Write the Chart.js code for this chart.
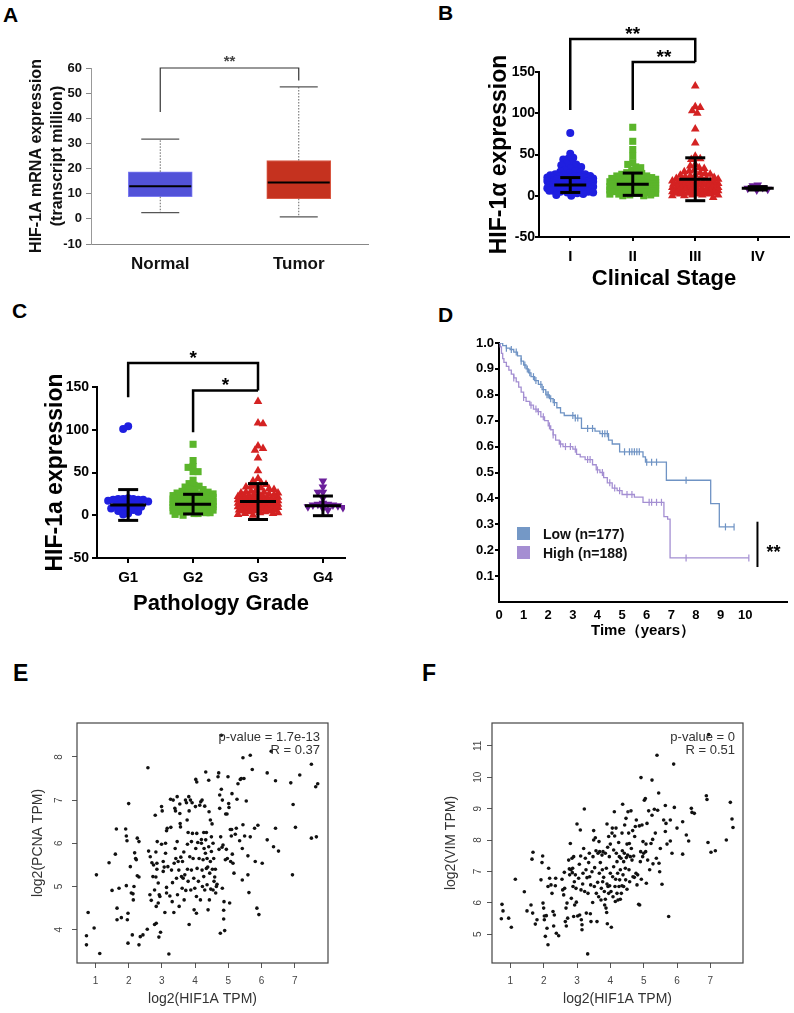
<!DOCTYPE html>
<html>
<head>
<meta charset="utf-8">
<script src="https://cdn.jsdelivr.net/npm/chart.js@4.4.1/dist/chart.umd.min.js"></script>
<style>
  body { margin: 0; background: #fff; width: 794px; height: 1013px; position: relative; overflow: hidden;
         font-family: Arial, "Liberation Sans", Helvetica, sans-serif; }
  canvas { position: absolute; }
  .letter { position: absolute; font-weight: bold; font-size: 21px; line-height: 1; color: #000; }
  .big { font-size: 23px; }
  .leg { position: absolute; left: 517px; font-weight: bold; font-size: 14px; line-height: 14px; color: #111; }
  .leg span { display: inline-block; width: 13px; height: 13px; vertical-align: top; margin-right: 13px; }
</style>
</head>
<body>
<div class="letter" style="left:3px;top:4px">A</div>
<div class="letter" style="left:438px;top:2px">B</div>
<div class="letter" style="left:12px;top:300px">C</div>
<div class="letter" style="left:438px;top:304px">D</div>
<div class="letter big" style="left:13px;top:662px">E</div>
<div class="letter big" style="left:422px;top:662px">F</div>

<canvas id="chartA" width="400" height="300" style="left:0;top:0"></canvas>
<canvas id="chartB" width="394" height="300" style="left:400px;top:0"></canvas>
<canvas id="chartC" width="400" height="320" style="left:0;top:300px"></canvas>
<canvas id="chartD" width="394" height="345" style="left:400px;top:300px"></canvas>
<canvas id="chartE" width="400" height="373" style="left:0;top:640px"></canvas>
<canvas id="chartF" width="394" height="373" style="left:400px;top:640px"></canvas>

<div class="leg" style="top:527px"><span style="background:#7498c6"></span>Low (n=177)</div>
<div class="leg" style="top:546px"><span style="background:#a58ed2"></span>High (n=188)</div>

<script>
// ---- A: box plot (UALCAN) ----
const aLabels = ["Normal", "Tumor"];
const aQ1 = [8.8, 8.0];
const aQ3 = [18.7, 23.2];
const aMed = [13.0, 14.5];
const aMin = [2.5, 0.8];
const aMax = [31.7, 52.5];
const aTicks = [-10, 0, 10, 20, 30, 40, 50, 60];

// ---- B: clinical stage dot plot ----
const bStages = ["I", "II", "III", "IV"];
const bTicks = [-50, 0, 50, 100, 150];
const bStageI = [76, 51, 46, 45, 44, 40, 39, 38, 37, 35, 33, 31, 30, 29, 28, 27, 26, 26, 25, 25, 24, 24, 23, 23,
  22, 22, 22, 21, 21, 21, 20, 20, 20, 20, 19, 19, 19, 19, 18, 18, 18, 18, 18, 17, 17, 17, 17, 17, 16, 16, 16, 16,
  16, 16, 15, 15, 15, 15, 15, 15, 14, 14, 14, 14, 14, 14, 13, 13, 13, 13, 13, 13, 12, 12, 12, 12, 12, 11, 11, 11,
  11, 11, 10, 10, 10, 10, 10, 9, 9, 9, 9, 8, 8, 8, 8, 7, 7, 7, 6, 6, 6, 5, 5, 4, 4, 3, 2, 1, 0];
const bStageII = [83, 66, 56, 48, 40, 38, 35, 34, 31, 29, 28, 27, 26, 25, 24, 24, 23, 22, 22, 21, 21, 20, 20, 20,
  19, 19, 19, 18, 18, 18, 17, 17, 17, 17, 16, 16, 16, 16, 15, 15, 15, 15, 14, 14, 14, 14, 13, 13, 13, 13, 12, 12,
  12, 12, 11, 11, 11, 11, 10, 10, 10, 10, 9, 9, 9, 9, 8, 8, 8, 7, 7, 7, 6, 6, 6, 5, 5, 5, 4, 4, 3, 3, 2, 2, 1, 1, 0, 0];
const bStageIII = [133, 108, 107, 103, 100, 81, 64, 48, 45, 44, 38, 36, 34, 33, 31, 30, 29, 28, 27, 26, 25, 25,
  24, 23, 22, 22, 21, 21, 20, 20, 19, 19, 18, 18, 17, 17, 17, 16, 16, 16, 15, 15, 15, 14, 14, 14, 13, 13, 13, 12,
  12, 12, 11, 11, 11, 10, 10, 10, 9, 9, 9, 8, 8, 8, 7, 7, 7, 6, 6, 6, 5, 5, 5, 4, 4, 4, 3, 3, 3, 2, 2, 2, 1, 1, 1,
  0, 0, -2];
const bStageIV = [13, 12, 10, 9, 8, 7];
const bMeans = [13, 14, 20, 9];
const bSds = [9, 13.5, 26, 2];

// ---- C: pathology grade dot plot ----
const cGrades = ["G1", "G2", "G3", "G4"];
const cTicks = [-50, 0, 50, 100, 150];
const cG1 = [104, 101, 20, 19, 19, 19, 18, 18, 18, 17, 16, 15, 14, 13, 12, 11, 10, 9, 8, 7, 6, 5, 4, 2, 1];
const cG2 = [83, 64, 57, 56, 51, 51, 41, 37, 35, 34, 33, 31, 30, 29, 28, 27, 26, 26, 25, 25, 24, 24, 23, 23, 22,
  22, 22, 21, 21, 21, 20, 20, 20, 20, 19, 19, 19, 19, 18, 18, 18, 18, 17, 17, 17, 17, 17, 16, 16, 16, 16, 16, 15,
  15, 15, 15, 15, 15, 14, 14, 14, 14, 14, 14, 13, 13, 13, 13, 13, 13, 12, 12, 12, 12, 12, 12, 11, 11, 11, 11, 11,
  10, 10, 10, 10, 10, 9, 9, 9, 9, 9, 8, 8, 8, 8, 7, 7, 7, 7, 6, 6, 6, 5, 5, 5, 4, 4, 3, 3, 2, 2, 1, 0];
const cG3 = [133, 108, 107, 81, 78, 76, 67, 52, 43, 40, 38, 36, 35, 34, 33, 32, 31, 30, 29, 28, 27, 27, 26, 26,
  25, 25, 24, 24, 23, 23, 22, 22, 21, 21, 21, 20, 20, 20, 19, 19, 19, 18, 18, 18, 18, 17, 17, 17, 17, 16, 16, 16,
  16, 15, 15, 15, 15, 14, 14, 14, 14, 13, 13, 13, 13, 12, 12, 12, 12, 11, 11, 11, 11, 10, 10, 10, 10, 9, 9, 9, 8,
  8, 8, 7, 7, 7, 6, 6, 6, 5, 5, 5, 4, 4, 3, 3, 2, 2, 1, 0];
const cG4 = [40, 33, 27, 27, 20, 14, 13, 13, 12, 12, 11, 10, 9, 8, 6];
const cMeans = [12, 13, 16, 11];
const cSds = [18, 11.5, 21, 11.5];

// ---- D: Kaplan-Meier ----
const dXTicks = [0, 1, 2, 3, 4, 5, 6, 7, 8, 9, 10];
const dYTicks = [0.1, 0.2, 0.3, 0.4, 0.5, 0.6, 0.7, 0.8, 0.9, 1.0];
const kmLowT = [0, 0.15, 0.3, 0.45, 0.6, 0.75, 0.9, 1.0, 1.1, 1.2, 1.3, 1.45, 1.6, 1.75, 1.9, 2.05, 2.2, 2.35,
  2.5, 2.65, 3.1, 3.35, 3.9, 4.1, 4.45, 4.6, 4.9, 5.85, 5.95, 6.8, 8.6, 8.95, 9.55];
const kmLowS = [1.0, 0.99, 0.98, 0.975, 0.965, 0.95, 0.93, 0.915, 0.9, 0.885, 0.87, 0.855, 0.84, 0.82, 0.8,
  0.785, 0.77, 0.75, 0.73, 0.72, 0.71, 0.67, 0.66, 0.65, 0.625, 0.61, 0.58, 0.56, 0.54, 0.47, 0.38, 0.29, 0.29];
const kmHighT = [0, 0.05, 0.1, 0.15, 0.2, 0.3, 0.4, 0.5, 0.6, 0.7, 0.8, 0.9, 1.0, 1.1, 1.25, 1.4, 1.55, 1.7,
  1.85, 2.0, 2.1, 2.2, 2.3, 2.45, 2.6, 3.0, 3.15, 3.3, 3.5, 3.8, 3.95, 4.1, 4.25, 4.4, 4.6, 4.8, 5.0, 5.5, 5.85,
  6.7, 6.85, 6.95, 10.15];
const kmHighS = [1.0, 0.985, 0.96, 0.94, 0.925, 0.91, 0.895, 0.88, 0.865, 0.85, 0.83, 0.81, 0.79, 0.775, 0.76,
  0.745, 0.735, 0.715, 0.7, 0.68, 0.665, 0.645, 0.625, 0.61, 0.6, 0.59, 0.57, 0.56, 0.55, 0.53, 0.51, 0.5, 0.48,
  0.46, 0.44, 0.43, 0.415, 0.405, 0.385, 0.33, 0.32, 0.17, 0.17];
const lowCensor = [0.3, 0.5, 0.7, 0.9, 1.05, 1.15, 1.25, 1.4, 1.5, 1.7, 1.8, 1.95, 2.0, 2.1, 2.25, 3.0, 3.1,
  3.2, 3.6, 3.8, 4.2, 4.3, 4.4, 5.1, 5.3, 5.4, 5.5, 5.6, 5.7, 6.0, 6.2, 6.4, 7.6, 9.2, 9.55];
const highCensor = [0.6, 1.0, 1.3, 1.5, 1.6, 1.8, 2.05, 2.2, 2.5, 2.7, 2.9, 3.1, 3.6, 3.7, 4.0, 4.2, 4.5, 4.7,
  4.9, 5.2, 5.4, 6.1, 6.2, 6.4, 6.6, 7.6, 10.15];

// ---- E: HIF1A vs PCNA ----
const eXTicks = [1, 2, 3, 4, 5, 6, 7];
const eYTicks = [4, 5, 6, 7, 8];
const eStats = ["p-value = 1.7e-13", "R = 0.37"];
const ePoints = [[0.73,3.86],[0.73,3.65],[0.78,4.40],[0.96,4.04],[1.03,5.27],[1.13,3.45],[1.41,5.55],[1.50,4.91],
  [1.60,5.75],[1.63,6.33],[1.65,4.50],[1.65,4.23],[1.71,4.96],[1.78,4.28],[1.91,6.33],[1.93,6.17],[1.95,6.06],
  [1.93,5.02],[1.96,4.23],[1.98,4.38],[1.98,3.69],[2.00,6.92],[2.05,5.46],[2.08,4.85],[2.11,3.88],[2.13,4.83],
  [2.14,4.69],[2.16,5.00],[2.18,5.78],[2.21,5.65],[2.23,5.62],[2.26,6.12],[2.26,5.25],[2.31,6.04],[2.31,5.22],
  [2.31,3.65],[2.35,3.84],[2.43,3.88],[2.56,4.01],[2.58,7.75],[2.60,5.82],[2.64,4.81],[2.65,5.69],[2.68,4.68],
  [2.70,5.55],[2.73,5.23],[2.75,5.50],[2.78,4.92],[2.78,4.12],[2.80,6.65],[2.82,5.80],[2.82,5.22],[2.83,4.15],
  [2.83,4.54],[2.85,5.40],[2.85,5.54],[2.86,6.04],[2.89,4.62],[2.89,5.08],[2.91,3.83],[2.92,4.81],[2.94,4.77],
  [2.96,3.94],[2.99,6.85],[3.01,6.75],[2.99,5.98],[3.04,5.35],[3.04,5.58],[3.07,5.45],[3.09,4.40],[3.11,6.00],
  [3.11,5.77],[3.14,6.29],[3.14,4.98],[3.14,4.85],[3.16,6.35],[3.18,5.46],[3.21,3.44],[3.24,4.78],[3.26,7.02],
  [3.27,6.37],[3.29,5.38],[3.31,4.65],[3.32,5.09],[3.34,7.00],[3.36,4.40],[3.37,5.54],[3.39,6.81],[3.40,5.88],
  [3.41,6.75],[3.42,5.65],[3.44,5.19],[3.46,7.08],[3.46,6.04],[3.47,4.81],[3.49,5.58],[3.51,5.38],[3.52,4.54],
  [3.54,6.91],[3.54,6.69],[3.55,6.46],[3.56,6.38],[3.57,5.68],[3.59,5.23],[3.61,4.96],[3.62,5.58],[3.64,5.19],
  [3.66,5.80],[3.67,4.69],[3.69,5.27],[3.71,7.00],[3.72,4.91],[3.74,6.94],[3.76,6.54],[3.77,5.98],[3.77,5.40],
  [3.79,6.25],[3.79,5.12],[3.81,7.08],[3.82,6.75],[3.82,4.12],[3.84,5.69],[3.86,7.00],[3.87,4.92],[3.89,6.04],
  [3.89,5.38],[3.91,6.94],[3.92,6.23],[3.94,5.65],[3.96,5.19],[3.97,4.46],[3.99,4.96],[4.01,6.85],[4.02,7.48],
  [4.02,5.88],[4.04,4.38],[4.04,4.77],[4.05,7.42],[4.05,6.23],[4.06,5.42],[4.08,6.02],[4.10,5.12],[4.12,5.65],
  [4.14,6.88],[4.16,4.69],[4.17,6.96],[4.19,6.00],[4.19,6.09],[4.21,7.00],[4.21,5.38],[4.22,5.00],[4.24,5.62],
  [4.26,6.25],[4.26,5.23],[4.27,5.88],[4.29,4.92],[4.29,6.86],[4.31,5.77],[4.32,7.65],[4.32,6.08],[4.34,5.42],
  [4.34,6.25],[4.36,5.65],[4.36,5.04],[4.38,5.45],[4.39,4.46],[4.41,7.46],[4.41,5.92],[4.42,6.73],[4.43,4.69],
  [4.44,5.31],[4.46,6.54],[4.46,5.58],[4.47,4.94],[4.49,6.15],[4.49,5.81],[4.51,6.45],[4.52,5.40],[4.54,6.00],
  [4.54,4.92],[4.56,5.65],[4.57,5.12],[4.59,5.22],[4.61,5.40],[4.62,4.85],[4.64,5.00],[4.66,5.05],[4.69,7.54],
  [4.71,7.63],[4.72,5.86],[4.74,7.12],[4.74,6.81],[4.76,3.92],[4.77,6.15],[4.79,7.25],[4.81,5.91],[4.82,7.00],
  [4.82,4.96],[4.84,5.96],[4.86,4.25],[4.86,4.45],[4.87,4.65],[4.89,3.98],[4.91,5.62],[4.92,6.68],[4.94,5.86],
  [4.96,6.68],[4.97,5.65],[4.99,7.54],[5.01,6.92],[5.02,6.83],[5.04,4.62],[5.06,6.32],[5.07,5.58],[5.09,6.17],
  [5.10,6.32],[5.11,7.15],[5.12,5.75],[5.14,5.54],[5.17,5.31],[5.21,6.21],[5.24,6.35],[5.26,7.02],[5.29,7.38],
  [5.34,6.06],[5.36,7.48],[5.39,7.50],[5.42,5.88],[5.42,5.15],[5.44,6.43],[5.44,7.98],[5.47,7.50],[5.49,6.17],
  [5.54,6.98],[5.59,5.71],[5.59,5.27],[5.62,4.86],[5.66,8.04],[5.66,6.15],[5.72,7.71],[5.79,6.35],[5.81,5.58],
  [5.86,4.50],[5.89,6.42],[5.92,4.35],[6.02,5.54],[6.17,7.63],[6.17,6.08],[6.29,8.13],[6.36,5.92],[6.42,7.45],
  [6.42,6.35],[6.51,5.82],[6.88,7.40],[6.93,5.27],[6.95,6.90],[7.02,6.37],[7.15,7.58],[7.50,7.83],[7.50,6.12],
  [7.63,7.31],[7.65,6.15],[7.69,7.38],[4.79,8.50]];

// ---- F: HIF1A vs VIM ----
const fXTicks = [1, 2, 3, 4, 5, 6, 7];
const fYTicks = [5, 6, 7, 8, 9, 10, 11];
const fStats = ["p-value = 0", "R = 0.51"];
const fPoints = [[0.75,5.95],[0.78,5.74],[0.73,5.49],[0.95,5.51],[1.03,5.22],[1.15,6.75],[1.42,6.35],[1.50,5.74],
  [1.62,5.93],[1.65,7.39],[1.68,7.61],[1.67,5.67],[1.75,5.32],[1.80,5.46],[1.92,6.73],[1.95,7.28],[1.97,7.49],
  [1.98,5.99],[2.00,5.83],[2.02,5.58],[2.02,5.46],[2.05,4.93],[2.08,5.59],[2.10,5.19],[2.13,4.66],[2.13,6.52],
  [2.15,7.10],[2.18,6.78],[2.22,6.57],[2.25,6.30],[2.28,5.72],[2.30,5.26],[2.32,5.61],[2.35,6.54],[2.36,6.78],
  [2.38,5.03],[2.45,4.95],[2.55,6.75],[2.57,6.41],[2.60,6.25],[2.62,6.97],[2.63,6.46],[2.65,5.40],[2.67,5.83],
  [2.68,5.26],[2.70,5.99],[2.72,5.51],[2.75,7.36],[2.77,7.08],[2.78,6.89],[2.80,7.89],[2.82,7.05],[2.83,6.14],
  [2.85,7.42],[2.86,6.96],[2.87,7.10],[2.88,6.52],[2.90,7.47],[2.90,5.56],[2.92,6.67],[2.93,5.93],[2.95,6.89],
  [2.97,6.46],[2.98,6.02],[3.00,8.51],[3.02,5.58],[3.05,6.78],[3.07,7.23],[3.08,5.61],[3.10,8.32],[3.11,7.49],
  [3.12,6.41],[3.13,5.46],[3.15,5.14],[3.15,5.30],[3.17,6.60],[3.18,6.94],[3.20,7.73],[3.22,8.99],[3.23,6.36],
  [3.25,7.42],[3.27,7.05],[3.28,5.67],[3.30,6.80],[3.32,4.37],[3.33,6.30],[3.35,7.28],[3.37,7.58],[3.38,6.83],
  [3.40,5.65],[3.41,6.57],[3.42,5.40],[3.45,6.99],[3.47,6.01],[3.48,7.47],[3.50,8.30],[3.50,8.00],[3.52,6.52],
  [3.53,7.12],[3.55,8.07],[3.57,7.66],[3.58,6.30],[3.60,5.40],[3.62,6.65],[3.63,7.58],[3.65,6.19],[3.66,7.95],
  [3.67,6.94],[3.68,7.63],[3.70,7.28],[3.72,6.09],[3.73,6.46],[3.75,7.52],[3.76,7.05],[3.77,6.67],[3.78,7.63],
  [3.80,6.81],[3.82,6.36],[3.83,5.93],[3.85,6.11],[3.85,7.58],[3.87,5.83],[3.88,7.10],[3.89,5.69],[3.90,8.51],
  [3.90,6.60],[3.91,5.33],[3.92,7.77],[3.93,6.52],[3.95,8.11],[3.95,6.30],[3.97,7.47],[3.98,6.54],[4.00,6.94],
  [4.00,7.87],[4.02,6.36],[4.03,5.22],[4.05,8.22],[4.06,8.38],[4.07,6.83],[4.08,6.19],[4.10,7.15],[4.10,7.68],
  [4.12,8.90],[4.13,8.13],[4.14,6.52],[4.15,6.04],[4.16,6.75],[4.17,8.38],[4.18,7.58],[4.20,6.30],[4.20,7.31],
  [4.22,6.94],[4.23,6.09],[4.25,7.92],[4.26,6.52],[4.27,7.47],[4.28,6.73],[4.30,7.05],[4.30,6.11],[4.32,7.42],
  [4.33,6.30],[4.35,8.22],[4.35,6.54],[4.36,7.66],[4.37,9.14],[4.38,6.89],[4.40,7.31],[4.40,6.52],[4.42,7.58],
  [4.43,8.48],[4.45,7.10],[4.46,6.73],[4.47,8.69],[4.48,7.44],[4.50,7.87],[4.50,6.43],[4.52,7.52],[4.53,8.90],
  [4.55,8.22],[4.56,7.05],[4.57,7.89],[4.58,6.67],[4.60,7.47],[4.62,8.93],[4.63,7.73],[4.65,7.36],[4.67,8.30],
  [4.68,6.83],[4.70,7.49],[4.72,6.81],[4.73,8.11],[4.75,8.43],[4.77,6.94],[4.78,8.64],[4.80,6.57],[4.82,6.89],
  [4.85,5.95],[4.87,8.45],[4.88,5.93],[4.90,7.31],[4.91,7.63],[4.92,9.99],[4.93,6.75],[4.95,8.48],[4.97,7.47],
  [4.98,7.95],[5.00,7.58],[5.02,9.27],[5.05,9.32],[5.06,7.63],[5.07,7.87],[5.08,6.62],[5.10,8.53],[5.12,7.36],
  [5.15,8.93],[5.18,7.05],[5.22,7.89],[5.25,9.91],[5.25,8.79],[5.27,8.02],[5.28,7.24],[5.32,8.98],[5.35,8.22],
  [5.38,7.42],[5.40,10.70],[5.42,8.95],[5.45,9.50],[5.46,7.26],[5.48,6.99],[5.50,7.73],[5.55,6.59],[5.60,8.64],
  [5.65,9.10],[5.65,8.27],[5.67,8.53],[5.70,7.87],[5.75,5.56],[5.80,8.64],[5.80,7.97],[5.85,7.58],[5.90,10.42],
  [5.92,9.04],[6.00,8.38],[6.17,8.58],[6.17,7.55],[6.28,8.16],[6.35,7.97],[6.43,9.01],[6.45,8.88],[6.52,8.85],
  [6.88,9.41],[6.90,9.29],[6.93,7.92],[7.02,7.61],[7.15,7.66],[7.48,8.00],[7.60,9.20],[7.65,8.67],[7.68,8.40],
  [6.95,11.36]];

// ---------------- helpers ----------------
Chart.defaults.font.family = 'Arial, "Liberation Sans", Helvetica, sans-serif';
Chart.defaults.color = "#000";
Chart.defaults.animation = false;
Chart.defaults.plugins.legend.display = false;
Chart.defaults.plugins.tooltip.enabled = false;

const fixW = w => s => { s.width = w; };
const fixH = h => s => { s.height = h; };
const setTicks = vals => s => { s.ticks = vals.map(v => ({ value: v })); };

function line(ctx, x1, y1, x2, y2) {
  ctx.beginPath(); ctx.moveTo(x1, y1); ctx.lineTo(x2, y2); ctx.stroke();
}

// GraphPad-like spreading of dots that share similar values
function swarm(values, center, pxPerX, pxPerY, gapPx, maxHalf) {
  const sorted = values.slice().sort((a, b) => b - a);
  const placed = [];
  return sorted.map(v => {
    const py = v * pxPerY;
    let best = 0, bestGap = -1, found = false;
    for (let k = 0; k <= maxHalf && !found; k++) {
      const tries = k === 0 ? [0] : (placed.length % 2 ? [-k, k] : [k, -k]);
      for (const s of tries) {
        let g = Infinity;
        for (const p of placed) g = Math.min(g, Math.hypot(p.x - s, p.y - py));
        if (g >= gapPx) { best = s; found = true; break; }
        if (g > bestGap) { bestGap = g; best = s; }
      }
    }
    placed.push({ x: best, y: py });
    return { x: center + best / pxPerX, y: v };
  });
}

function survAt(ts, ss, t) {
  let s = ss[0];
  ts.forEach((ti, i) => { if (ti <= t) s = ss[i]; });
  return s;
}

const blackBorder = { color: "#000", width: 2 };

// ---------------- A ----------------
const boxPlugin = {
  id: "boxWhiskers",
  afterDatasetsDraw(chart) {
    const { ctx, scales: { x, y } } = chart;
    ctx.save();
    aLabels.forEach((_, i) => {
      const cx = x.getPixelForValue(i);
      ctx.strokeStyle = "#666"; ctx.lineWidth = 1; ctx.setLineDash([1.5, 1.5]);
      line(ctx, cx, y.getPixelForValue(aQ3[i]), cx, y.getPixelForValue(aMax[i]));
      line(ctx, cx, y.getPixelForValue(aQ1[i]), cx, y.getPixelForValue(aMin[i]));
      ctx.setLineDash([]); ctx.strokeStyle = "#555"; ctx.lineWidth = 1.3;
      line(ctx, cx - 19, y.getPixelForValue(aMax[i]), cx + 19, y.getPixelForValue(aMax[i]));
      line(ctx, cx - 19, y.getPixelForValue(aMin[i]), cx + 19, y.getPixelForValue(aMin[i]));
      ctx.strokeStyle = "#000"; ctx.lineWidth = 2;
      line(ctx, cx - 31, y.getPixelForValue(aMed[i]), cx + 31, y.getPixelForValue(aMed[i]));
    });
    const x0 = x.getPixelForValue(0), x1 = x.getPixelForValue(1), top = y.getPixelForValue(60);
    ctx.strokeStyle = "#333"; ctx.lineWidth = 1.2;
    ctx.beginPath();
    ctx.moveTo(x0, y.getPixelForValue(42.5)); ctx.lineTo(x0, top); ctx.lineTo(x1, top); ctx.lineTo(x1, y.getPixelForValue(55));
    ctx.stroke();
    ctx.fillStyle = "#444"; ctx.font = "bold 15px Arial"; ctx.textAlign = "center";
    ctx.fillText("**", (x0 + x1) / 2, top - 2);
    ctx.restore();
  }
};

new Chart(document.getElementById("chartA"), {
  type: "bar",
  data: {
    labels: aLabels,
    datasets: [{
      data: aLabels.map((_, i) => [aQ1[i], aQ3[i]]),
      backgroundColor: ["#5252d8", "#c5321f"],
      borderColor: ["#7c7cf2", "#da5a45"],
      borderWidth: 1, borderSkipped: false, barThickness: 64
    }]
  },
  options: {
    responsive: false,
    layout: { padding: { left: 0, top: 68, right: 32, bottom: 0 } },
    scales: {
      x: {
        afterFit: fixH(56), grid: { drawOnChartArea: false, drawTicks: false }, border: { color: "#888", width: 1 },
        ticks: { padding: 10, color: "#111", font: { size: 17, weight: "bold" } }
      },
      y: {
        min: -10, max: 60, afterFit: fixW(91), afterBuildTicks: setTicks(aTicks),
        grid: { drawOnChartArea: false, tickLength: 5, color: "#888" }, border: { color: "#999", width: 1 },
        ticks: { padding: 4, color: "#111", font: { size: 13, weight: "bold" } },
        title: {
          display: true, text: ["HIF-1A mRNA expression", "(transcript million)"], color: "#111",
          font: { size: 16, weight: "bold", lineHeight: 1.3 }, padding: { top: 26, bottom: 0 }
        }
      }
    }
  },
  plugins: [boxPlugin]
});

// ---------------- B & C ----------------
function dotPlugin(means, sds, meanHalf, capHalf, brackets) {
  return {
    id: "meanSd",
    afterDatasetsDraw(chart) {
      const { ctx, scales: { x, y } } = chart;
      ctx.save();
      ctx.strokeStyle = "#000"; ctx.lineWidth = 3;
      means.forEach((m, i) => {
        const cx = x.getPixelForValue(i + 1);
        const yt = y.getPixelForValue(m + sds[i]), yb = y.getPixelForValue(m - sds[i]), ym = y.getPixelForValue(m);
        line(ctx, cx, yt, cx, yb);
        line(ctx, cx - capHalf, yt, cx + capHalf, yt);
        line(ctx, cx - capHalf, yb, cx + capHalf, yb);
        line(ctx, cx - meanHalf, ym, cx + meanHalf, ym);
      });
      ctx.lineWidth = 2.5; ctx.lineJoin = "miter";
      ctx.fillStyle = "#000"; ctx.font = "bold 19px Arial"; ctx.textAlign = "center";
      brackets.forEach(b => {
        const xa = x.getPixelForValue(b.x1), xb = x.getPixelForValue(b.x2), yt = y.getPixelForValue(b.top);
        ctx.beginPath();
        ctx.moveTo(xa, y.getPixelForValue(b.yl)); ctx.lineTo(xa, yt); ctx.lineTo(xb, yt); ctx.lineTo(xb, y.getPixelForValue(b.yr));
        ctx.stroke();
        ctx.fillText(b.text, (xa + xb) / 2, yt + 1);
      });
      ctx.restore();
    }
  };
}

const groupColors = ["#1f1fe0", "#5bb52b", "#d42222", "#6b1f9a"];
const groupMarks = [
  { pointStyle: "circle", pointRadius: 4, pointRotation: 0 },
  { pointStyle: "rect", pointRadius: 5, pointRotation: 0 },
  { pointStyle: "triangle", pointRadius: 5, pointRotation: 0 },
  { pointStyle: "triangle", pointRadius: 5, pointRotation: 180 }
];

function dotChart(id, groups, names, ticks, pxX, pxY, half, xMin, xMax, yTitle, yTitlePad, xTitle, xTitlePad,
                  padTop, padRight, yW, xH, tickLen, tickPad, xLabelPad, plugin) {
  const marks = { drawOnChartArea: false, tickLength: tickLen, color: "#000", lineWidth: 2 };
  return new Chart(document.getElementById(id), {
    type: "scatter",
    data: {
      datasets: groups.map((vals, i) => Object.assign({
        data: swarm(vals, i + 1, pxX, pxY, 5, half),
        backgroundColor: groupColors[i], borderColor: groupColors[i], pointBorderWidth: 0
      }, groupMarks[i]))
    },
    options: {
      responsive: false,
      layout: { padding: { left: 0, top: padTop, right: padRight, bottom: 0 } },
      scales: {
        x: {
          type: "linear", min: xMin, max: xMax, afterFit: fixH(xH), afterBuildTicks: setTicks([1, 2, 3, 4]),
          grid: marks, border: blackBorder,
          ticks: { padding: xLabelPad, font: { size: 15, weight: "bold" }, callback: (v, i) => names[i] },
          title: { display: true, text: xTitle, font: { size: 22, weight: "bold" }, padding: { top: 0, bottom: xTitlePad } }
        },
        y: {
          min: -50, max: 150, afterFit: fixW(yW), afterBuildTicks: setTicks(ticks),
          grid: marks, border: blackBorder,
          ticks: { padding: tickPad, font: { size: 14, weight: "bold" } },
          title: { display: true, text: yTitle, font: { size: 23, weight: "bold" }, padding: { top: yTitlePad, bottom: 0 } }
        }
      }
    },
    plugins: [plugin]
  });
}

dotChart("chartB", [bStageI, bStageII, bStageIII, bStageIV], bStages, bTicks, 62.75, 0.825, 23, 0.5, 4.5,
  "HIF-1α expression", 86, "Clinical Stage", 8, 72, 4, 139, 63, 4, 0, 7,
  dotPlugin(bMeans, bSds, 16, 10, [
    { x1: 1, x2: 3, yl: 104, top: 190, yr: 162, text: "**" },
    { x1: 2, x2: 3, yl: 104, top: 162, yr: 162, text: "**" }
  ]));

dotChart("chartC", [cG1, cG2, cG3, cG4], cGrades, cTicks, 64.9, 0.858, 20, 0.52, 4.34,
  "HIF-1a expression", 42, "Pathology Grade", 3, 87, 55, 97, 62, 5, 3, 6,
  dotPlugin(cMeans, cSds, 18, 10, [
    { x1: 1, x2: 3, yl: 138, top: 178, yr: 146, text: "*" },
    { x1: 2, x2: 3, yl: 97, top: 146, yr: 146, text: "*" }
  ]));

// ---------------- D ----------------
const lowColor = "#6f93c4", highColor = "#a48fd2";
const kmPlugin = {
  id: "kmSig",
  afterDatasetsDraw(chart) {
    const { ctx, scales: { x, y } } = chart;
    ctx.save();
    ctx.strokeStyle = "#000"; ctx.lineWidth = 2;
    line(ctx, x.getPixelForValue(10.5), y.getPixelForValue(0.31), x.getPixelForValue(10.5), y.getPixelForValue(0.135));
    ctx.fillStyle = "#000"; ctx.font = "bold 18px Arial"; ctx.textAlign = "center";
    ctx.fillText("**", x.getPixelForValue(11.15), y.getPixelForValue(0.21) + 10);
    ctx.restore();
  }
};

new Chart(document.getElementById("chartD"), {
  type: "line",
  data: {
    datasets: [
      { data: kmLowT.map((t, i) => ({ x: t, y: kmLowS[i] })), stepped: "before", borderColor: lowColor,
        borderWidth: 1.3, pointRadius: 0, fill: false },
      { data: kmHighT.map((t, i) => ({ x: t, y: kmHighS[i] })), stepped: "before", borderColor: highColor,
        borderWidth: 1.3, pointRadius: 0, fill: false },
      { data: lowCensor.map(t => ({ x: t, y: survAt(kmLowT, kmLowS, t) })), showLine: false,
        pointStyle: "line", pointRotation: 90, pointRadius: 3.5, borderColor: lowColor, pointBorderColor: lowColor, pointBorderWidth: 1.2 },
      { data: highCensor.map(t => ({ x: t, y: survAt(kmHighT, kmHighS, t) })), showLine: false,
        pointStyle: "line", pointRotation: 90, pointRadius: 3.5, borderColor: highColor, pointBorderColor: highColor, pointBorderWidth: 1.2 }
    ]
  },
  options: {
    responsive: false,
    layout: { padding: { left: 0, top: 43, right: 7, bottom: 0 } },
    scales: {
      x: {
        type: "linear", min: 0, max: 11.7, afterFit: fixH(43), afterBuildTicks: setTicks(dXTicks),
        grid: { drawOnChartArea: false, drawTicks: false }, border: blackBorder,
        ticks: { padding: 6, font: { size: 13, weight: "bold" } },
        title: { display: true, text: "Time（years）", font: { size: 15, weight: "bold" }, padding: { top: 0, bottom: 5 } }
      },
      y: {
        min: 0, max: 1, afterFit: fixW(99), afterBuildTicks: setTicks(dYTicks),
        grid: { drawOnChartArea: false, tickLength: 4, color: "#000", lineWidth: 2 }, border: blackBorder,
        ticks: { padding: 1, font: { size: 13, weight: "bold" }, callback: v => v.toFixed(1) }
      }
    }
  },
  plugins: [kmPlugin]
});

// ---------------- E & F ----------------
function framePlugin(stats, labelGap) {
  return {
    id: "frame",
    afterDraw(chart) {
      const { ctx, chartArea: a, scales: { y } } = chart;
      ctx.save();
      ctx.strokeStyle = "#444"; ctx.lineWidth = 1.2;
      ctx.strokeRect(a.left, a.top, a.right - a.left, a.bottom - a.top);
      ctx.fillStyle = "#444"; ctx.font = "10px Arial"; ctx.textAlign = "center"; ctx.textBaseline = "middle";
      y.ticks.forEach(t => {
        ctx.save();
        ctx.translate(a.left - labelGap, y.getPixelForValue(t.value));
        ctx.rotate(-Math.PI / 2);
        ctx.fillText(String(t.value), 0, 0);
        ctx.restore();
      });
      ctx.fillStyle = "#333"; ctx.font = "13px Arial"; ctx.textAlign = "right";
      ctx.fillText(stats[0], a.right - 8, a.top + 14);
      ctx.fillText(stats[1], a.right - 8, a.top + 27);
      ctx.restore();
    }
  };
}

function scatterChart(id, pts, xTicks, yTicks, xMin, xMax, yMin, yMax, yTitle, yTitlePad, padRight, yW, stats, labelGap) {
  const greyTicks = { drawOnChartArea: false, tickLength: 5, color: "#555", lineWidth: 1 };
  return new Chart(document.getElementById(id), {
    type: "scatter",
    data: { datasets: [{ data: pts.map(p => ({ x: p[0], y: p[1] })), pointRadius: 1.8, pointBorderWidth: 0,
      backgroundColor: "#111", borderColor: "#111" }] },
    options: {
      responsive: false,
      layout: { padding: { left: 0, top: 83, right: padRight, bottom: 0 } },
      scales: {
        x: {
          min: xMin, max: xMax, afterFit: fixH(50), afterBuildTicks: setTicks(xTicks),
          grid: greyTicks, border: { display: false },
          ticks: { padding: 7, color: "#444", font: { size: 10 } },
          title: { display: true, text: "log2(HIF1A TPM)", color: "#333", font: { size: 14 }, padding: { top: 0, bottom: 5 } }
        },
        y: {
          min: yMin, max: yMax, afterFit: fixW(yW), afterBuildTicks: setTicks(yTicks),
          grid: greyTicks, border: { display: false }, ticks: { display: false },
          title: { display: true, text: yTitle, color: "#333", font: { size: 14 }, padding: { top: yTitlePad, bottom: 0 } }
        }
      }
    },
    plugins: [framePlugin(stats, labelGap)]
  });
}

scatterChart("chartE", ePoints, eXTicks, eYTicks, 0.445, 8.0, 3.23, 8.785, "log2(PCNA TPM)", 30, 72, 77, eStats, 18);
scatterChart("chartF", fPoints, fXTicks, fYTicks, 0.45, 7.98, 4.08, 11.73, "log2(VIM TPM)", 43, 51, 92, fStats, 14);
</script>
</body>
</html>
